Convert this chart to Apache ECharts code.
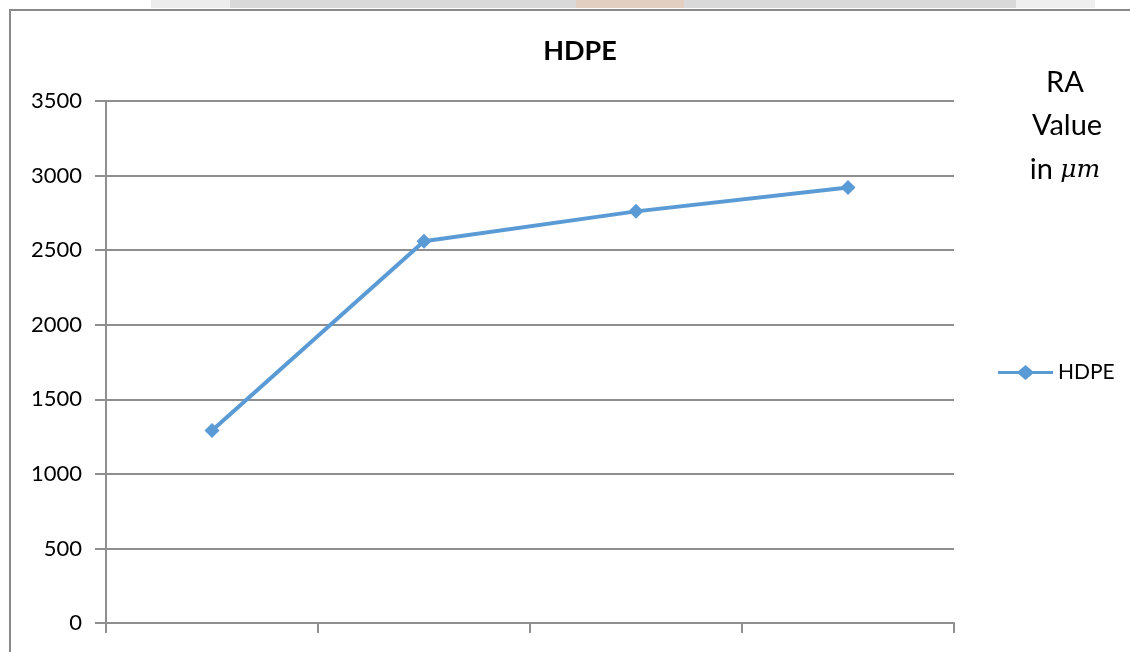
<!DOCTYPE html>
<html>
<head>
<meta charset="utf-8">
<script src="https://cdn.jsdelivr.net/npm/echarts@6/dist/echarts.min.js"></script>
<style>
  html, body { margin: 0; padding: 0; background: #ffffff; }
  #chart { width: 1130px; height: 652px; }
</style>
</head>
<body>
<div id="chart"></div>
<script>
// Sample positions along the x axis (unlabelled categories)
const categories = ['1', '2', '3', '4'];
// RA value readings for HDPE
const hdpeValues = [1290, 2560, 2760, 2920];
// Y axis range and step
const yMin = 0;
const yMax = 3500;
const yStep = 500;

const FONT = 'Lato, "Liberation Sans", sans-serif';
const GRID_GREY = '#8e8e8e';
const LINE_BLUE = '#5b9bd5';
// legend key: a line segment with a diamond in the middle
const LEGEND_ICON = 'path://M0,6.5H20.5L27.5,0.5L34.5,6.5H55V9.5H34.5L27.5,15.5L20.5,9.5H0Z';

const chart = echarts.init(document.getElementById('chart'));

chart.setOption({
  animation: false,
  backgroundColor: '#ffffff',
  title: {
    text: 'HDPE',
    left: 575,
    top: 33,
    textAlign: 'center',
    textStyle: { fontFamily: FONT, fontSize: 27, fontWeight: 'bold', color: '#000000' }
  },
  legend: {
    left: 993,
    top: 357,
    itemWidth: 55,
    itemHeight: 16,
    itemGap: 8,
    icon: LEGEND_ICON,
    data: [{ name: 'HDPE', itemStyle: { color: LINE_BLUE } }],
    textStyle: { fontFamily: FONT, fontSize: 21, color: '#000000' }
  },
  grid: { left: 106, right: 176, top: 101, bottom: 29, containLabel: false },
  xAxis: {
    type: 'category',
    data: categories,
    boundaryGap: true,
    axisLine: { show: true, lineStyle: { color: GRID_GREY, width: 2 } },
    axisTick: { show: true, length: 10, alignWithLabel: false, lineStyle: { color: GRID_GREY, width: 2 } },
    axisLabel: { show: false },
    splitLine: { show: false }
  },
  yAxis: {
    type: 'value',
    min: yMin,
    max: yMax,
    interval: yStep,
    axisLine: { show: true, lineStyle: { color: GRID_GREY, width: 2 } },
    axisTick: { show: true, length: 11, lineStyle: { color: GRID_GREY, width: 2 } },
    axisLabel: {
      margin: 24, fontFamily: FONT, fontSize: 22, color: '#000000',
      formatter: (v) => String(v)
    },
    splitLine: { show: true, lineStyle: { color: GRID_GREY, width: 2 } }
  },
  series: [{
    name: 'HDPE',
    type: 'line',
    data: hdpeValues,
    symbol: 'diamond',
    symbolSize: 15,
    lineStyle: { color: LINE_BLUE, width: 4 },
    itemStyle: { color: LINE_BLUE },
    z: 5
  }],
  graphic: [
    // strip of the page above the chart frame
    { type: 'rect', shape: { x: 151, y: 0, width: 79, height: 8 }, style: { fill: '#ededed' }, silent: true },
    { type: 'rect', shape: { x: 230, y: 0, width: 786, height: 8 }, style: { fill: '#d9d9d9' }, silent: true },
    { type: 'rect', shape: { x: 576, y: 0, width: 108, height: 8 }, style: { fill: '#e3cfc2' }, silent: true },
    { type: 'rect', shape: { x: 1016, y: 0, width: 79, height: 8 }, style: { fill: '#efefef' }, silent: true },
    // chart frame
    { type: 'rect', shape: { x: 10, y: 10, width: 1200, height: 700 }, style: { fill: 'none', stroke: '#8a8a8a', lineWidth: 2 }, silent: true },
    // value caption on the right
    { type: 'text', x: 1065, y: 83, style: { text: 'RA', textAlign: 'center', textVerticalAlign: 'middle', fontFamily: FONT, fontSize: 29, fill: '#000000' } },
    { type: 'text', x: 1067, y: 126, style: { text: 'Value', textAlign: 'center', textVerticalAlign: 'middle', fontFamily: FONT, fontSize: 29, fill: '#000000' } },
    {
      type: 'text', x: 1065, y: 170,
      style: {
        text: '{a|in }{m|μm}',
        textAlign: 'center', textVerticalAlign: 'middle',
        rich: {
          a: { fontFamily: FONT, fontSize: 29, color: '#000000' },
          m: { fontFamily: '"DejaVu Serif", "Liberation Serif", serif', fontStyle: 'italic', fontSize: 25, color: '#1a1a1a' }
        }
      }
    }
  ]
});
</script>
</body>
</html>
